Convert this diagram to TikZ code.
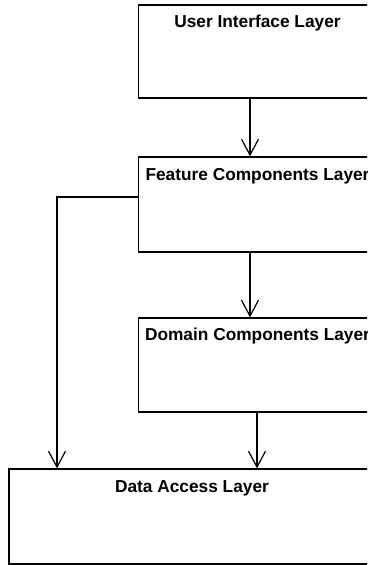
\documentclass[tikz,border=0pt]{standalone}
\usepackage{fontspec}
\setmainfont{Liberation Sans}
\usetikzlibrary{arrows.meta}
\begin{document}
\begin{tikzpicture}[x=1pt,y=-1pt,
  layer/.style={draw=black, line width=1.2pt, rectangle, inner sep=0pt},
  title/.style={font=\bfseries\fontsize{17.3}{20}\selectfont, anchor=base, inner sep=0pt},
  arr/.style={draw=black, line width=1.2pt,
    -{Straight Barb[length=16pt, width=17pt, line width=1.2pt]}}]
  \useasboundingbox (0,0) rectangle (367,565);
  \clip (0,0) rectangle (367,565);

  % layer boxes
  \node[layer, minimum width=238pt, minimum height=93pt] (ui)   at (257.5,51.5) {};
  \node[layer, minimum width=238pt, minimum height=95pt] (feat) at (257.5,204.5) {};
  \node[layer, minimum width=238pt, minimum height=94pt] (dom)  at (257.5,365) {};
  \node[layer, minimum width=366pt, minimum height=95pt] (data) at (192,516.5) {};

  % layer titles
  \node[title] (uit) at ([yshift=-23pt]ui.north)   {User Interface Layer};
  \node[title] (ft)  at ([yshift=-24pt]feat.north) {Feature Components Layer};
  \node[title] (dt)  at ([yshift=-23pt]dom.north)  {Domain Components Layer};
  \node[title] (dat) at ([yshift=-24pt]data.north) {Data Access Layer};

  % dependencies
  \draw[arr] ([xshift=-7.5pt]ui.south) -- ([xshift=-7.5pt]feat.north);
  \draw[arr] ([xshift=-7.5pt]feat.south) -- ([xshift=-7.5pt]dom.north);
  \draw[arr] ([xshift=-0.5pt]dom.south) coordinate (d1) -- (d1 |- data.north);
  \draw[arr] ([yshift=7.5pt]feat.west) -| ([xshift=-135pt]data.north);
\end{tikzpicture}
\end{document}
